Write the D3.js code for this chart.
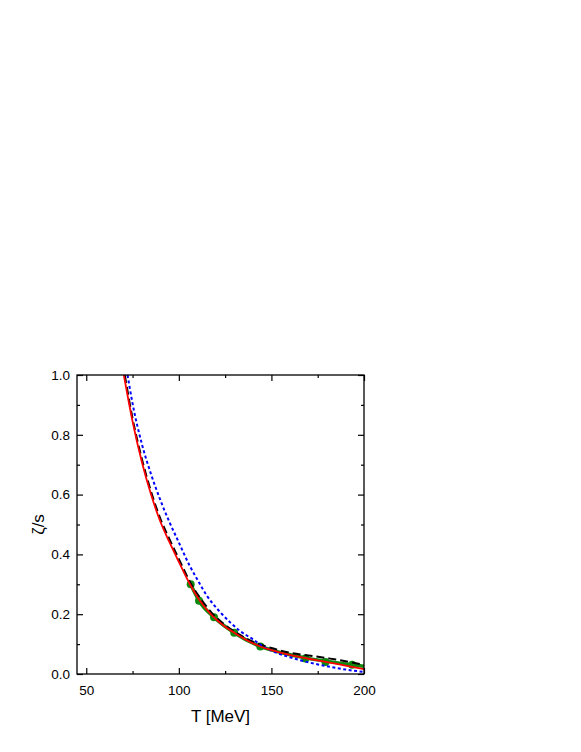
<!DOCTYPE html>
<html>
<head>
<meta charset="utf-8">
<script src="https://cdn.jsdelivr.net/npm/d3@7"></script>
<style>
  body { margin: 0; background: #fff; }
  text { font-family: "Liberation Sans", Arial, sans-serif; }
</style>
</head>
<body>
<div id="chart"></div>
<script>
// T [MeV] vs zeta/s
const redCurve = [
  [70.3, 1.0], [75, 0.845], [80, 0.71], [85, 0.60], [90, 0.51], [95, 0.44],
  [100, 0.375], [106, 0.30], [111, 0.248], [118, 0.195], [125, 0.158], [130, 0.138],
  [137, 0.112], [144, 0.092], [150, 0.080], [160, 0.064], [170, 0.051], [180, 0.040],
  [190, 0.028], [200, 0.016]
];
const blackCurve = [
  [70.8, 1.0], [75, 0.855], [80, 0.72], [85, 0.61], [90, 0.52], [95, 0.45],
  [100, 0.385], [106, 0.308], [112, 0.25], [118, 0.203], [125, 0.164], [132, 0.134],
  [140, 0.108], [150, 0.087], [160, 0.071], [170, 0.062], [180, 0.053], [190, 0.043],
  [200, 0.030]
];
const blueCurve = [
  [72.3, 1.0], [75, 0.905], [80, 0.77], [85, 0.668], [90, 0.582], [95, 0.507],
  [100, 0.44], [106, 0.36], [110, 0.316], [115, 0.263], [122, 0.209], [128, 0.171],
  [133, 0.144], [140, 0.116], [145, 0.094], [150, 0.078], [160, 0.056], [170, 0.039],
  [180, 0.026], [190, 0.015], [200, 0.007]
];
const greenT = [106.4, 110.9, 119.0, 129.9, 144.0, 168.3, 179.2, 193.6];
const greenV = [0.30, 0.245, 0.19, 0.138, 0.092, 0.052, 0.040, 0.031];
const greenLine = [
  [106.4, 0.30], [110.9, 0.245], [119.0, 0.19], [129.9, 0.138], [144.0, 0.092],
  [155, 0.072], [168.3, 0.054], [179.2, 0.043], [193.6, 0.031], [200, 0.026]
];
const xTicks = [50, 100, 150, 200];
const xMinor = [75, 125, 175];
const yTicks = [0, 0.2, 0.4, 0.6, 0.8, 1.0];
const yMinor = [0.1, 0.3, 0.5, 0.7, 0.9];

const W = 581, H = 752;
const m = { left: 77, right: 364, top: 375, bottom: 674 };

const svg = d3.select('#chart').append('svg')
  .attr('width', W).attr('height', H);

const x = d3.scaleLinear().domain([45, 200]).range([m.left, m.right]);
const y = d3.scaleLinear().domain([0, 1]).range([m.bottom, m.top]);

svg.append('clipPath').attr('id', 'clip')
  .append('rect')
  .attr('x', m.left).attr('y', m.top)
  .attr('width', m.right - m.left).attr('height', m.bottom - m.top);

const plot = svg.append('g').attr('clip-path', 'url(#clip)');

const line = d3.line()
  .x(d => x(d[0]))
  .y(d => y(d[1]))
  .curve(d3.curveMonotoneX);

// green thick line + dots
plot.append('path')
  .attr('d', line(greenLine))
  .attr('fill', 'none')
  .attr('stroke', '#0f8a0f')
  .attr('stroke-width', 3.5);

plot.selectAll('circle.dot')
  .data(greenT.map((t, i) => [t, greenV[i]]))
  .enter()
  .append('circle')
  .attr('class', 'dot')
  .attr('cx', d => x(d[0]))
  .attr('cy', d => y(d[1]))
  .attr('r', 4)
  .attr('fill', '#0f8a0f');

plot.append('path')
  .attr('d', line(blackCurve))
  .attr('fill', 'none')
  .attr('stroke', '#000')
  .attr('stroke-width', 2)
  .attr('stroke-dasharray', '8,4');

plot.append('path')
  .attr('d', line(blueCurve))
  .attr('fill', 'none')
  .attr('stroke', '#0000ff')
  .attr('stroke-width', 2)
  .attr('stroke-dasharray', '3,2.5');

plot.append('path')
  .attr('d', line(redCurve))
  .attr('fill', 'none')
  .attr('stroke', '#ff0000')
  .attr('stroke-width', 1.8);

// axes: ticks inside on all four sides
function styleAxis(g) {
  g.select('.domain').remove();
  g.selectAll('line').attr('stroke', '#000').attr('stroke-width', 1.2);
  g.selectAll('text').attr('font-size', 13.5).attr('fill', '#000');
}

svg.append('g')
  .attr('transform', `translate(0,${m.bottom})`)
  .call(d3.axisBottom(x).tickValues(xTicks).tickSize(-6).tickPadding(11).tickFormat(d3.format('d')))
  .call(styleAxis);
svg.append('g')
  .attr('transform', `translate(0,${m.bottom})`)
  .call(d3.axisBottom(x).tickValues(xMinor).tickSize(-3).tickFormat(''))
  .call(styleAxis);
svg.append('g')
  .attr('transform', `translate(0,${m.top})`)
  .call(d3.axisTop(x).tickValues(xTicks).tickSize(-6).tickFormat(''))
  .call(styleAxis);
svg.append('g')
  .attr('transform', `translate(0,${m.top})`)
  .call(d3.axisTop(x).tickValues(xMinor).tickSize(-3).tickFormat(''))
  .call(styleAxis);

svg.append('g')
  .attr('transform', `translate(${m.left},0)`)
  .call(d3.axisLeft(y).tickValues(yTicks).tickSize(-6).tickPadding(7).tickFormat(d3.format('.1f')))
  .call(styleAxis);
svg.append('g')
  .attr('transform', `translate(${m.left},0)`)
  .call(d3.axisLeft(y).tickValues(yMinor).tickSize(-3).tickFormat(''))
  .call(styleAxis);
svg.append('g')
  .attr('transform', `translate(${m.right},0)`)
  .call(d3.axisRight(y).tickValues(yTicks).tickSize(-6).tickFormat(''))
  .call(styleAxis);
svg.append('g')
  .attr('transform', `translate(${m.right},0)`)
  .call(d3.axisRight(y).tickValues(yMinor).tickSize(-3).tickFormat(''))
  .call(styleAxis);

// frame
svg.append('rect')
  .attr('x', m.left).attr('y', m.top)
  .attr('width', m.right - m.left).attr('height', m.bottom - m.top)
  .attr('fill', 'none')
  .attr('stroke', '#000')
  .attr('stroke-width', 1.3);

// axis titles
svg.append('text')
  .attr('x', (m.left + m.right) / 2)
  .attr('y', 722)
  .attr('text-anchor', 'middle')
  .attr('font-size', 17)
  .text('T [MeV]');

svg.append('text')
  .attr('transform', `translate(44,${(m.top + m.bottom) / 2}) rotate(-90)`)
  .attr('text-anchor', 'middle')
  .attr('font-size', 17)
  .text('ζ/s');
</script>
</body>
</html>
